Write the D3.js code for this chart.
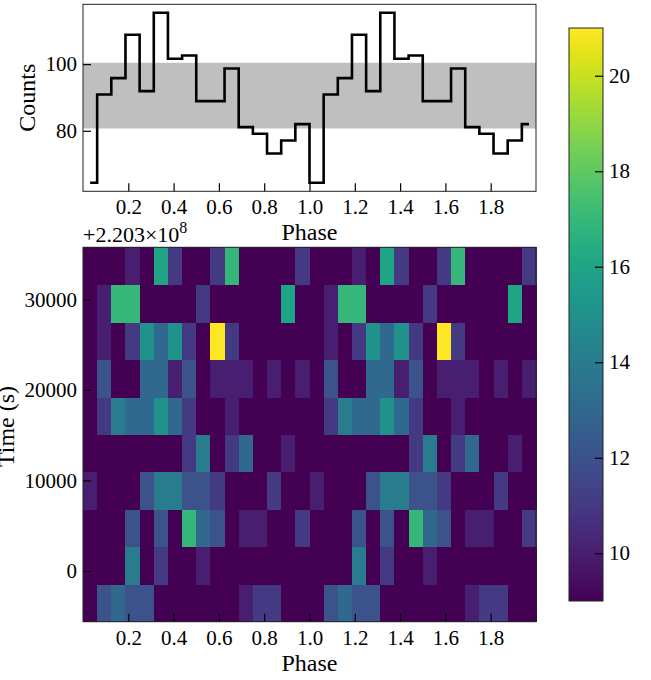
<!DOCTYPE html>
<html>
<head>
<meta charset="utf-8">
<script src="https://cdn.jsdelivr.net/npm/d3@7"></script>
<style>
  body { margin: 0; background: #fff; }
  svg text { font-family: 'Liberation Serif', 'DejaVu Serif', serif; fill: #000; }
</style>
</head>
<body>
<svg width="651" height="680"></svg>
<script>
// folded profile, one cycle (plotted twice)
const cyclePhase = [0.03125, 0.09375, 0.15625, 0.21875, 0.28125, 0.34375, 0.40625, 0.46875,
  0.53125, 0.59375, 0.65625, 0.71875, 0.78125, 0.84375, 0.90625, 0.96875]
const cycleCounts = [64.4, 90.9, 95.8, 108.8, 91.9, 115.4, 101.6, 102.6,
  88.9, 88.9, 98.7, 81.1, 79.1, 73.2, 77.1, 82.0]
const countBand = [80.7, 100.4]
const countTicks = [80, 100]

// phase-time map, one cycle, rows from earliest to latest
const phaseEdges = [0, 0.0625, 0.125, 0.1875, 0.25, 0.3125, 0.375, 0.4375, 0.5,
  0.5625, 0.625, 0.6875, 0.75, 0.8125, 0.875, 0.9375, 1]
const timeEdges = [-5600, -1466, 2668, 6802, 10936, 15070, 19204, 23338, 27472, 31606, 35740]
const rates = [
  [9, 12, 13, 12, 12, 9, 9, 9, 9, 9, 9, 10, 11, 11, 9, 9],
  [9, 9, 9, 14, 9, 11, 9, 9, 10, 9, 9, 9, 9, 9, 9, 9],
  [9, 9, 9, 12, 9, 12, 9, 17, 13, 12, 9, 10, 10, 9, 9, 11],
  [10, 9, 9, 9, 12, 14, 14, 12, 12, 11, 9, 9, 9, 11, 9, 9],
  [9, 9, 9, 9, 9, 9, 9, 11, 14, 9, 11, 13, 9, 9, 10, 9],
  [9, 11, 14, 13, 13, 15, 13, 11, 9, 9, 10, 9, 9, 9, 9, 9],
  [9, 12, 9, 9, 13, 13, 10, 12, 9, 10, 10, 10, 9, 10, 9, 10],
  [9, 10, 9, 11, 15, 13, 15, 11, 9, 21, 11, 9, 9, 9, 9, 9],
  [9, 10, 17, 17, 9, 9, 9, 9, 11, 9, 9, 9, 9, 9, 16, 9],
  [9, 9, 9, 10, 9, 16, 11, 9, 9, 11, 17, 9, 9, 9, 9, 11]
]
const cycles = [0, 1]
const phaseTicks = [0.2, 0.4, 0.6, 0.8, 1.0, 1.2, 1.4, 1.6, 1.8]
const timeTicks = [0, 10000, 20000, 30000]
const colorDomain = [9, 21]
const colorTicks = [10, 12, 14, 16, 18, 20]

const svg = d3.select('svg')
const left = 83
const right = 536
const tickFont = 21
const labelFont = 24

const x = d3.scaleLinear().domain([0, 2]).range([left, right])

// ---- top panel: pulse profile
const topY0 = 4.3
const topY1 = 191.3
const cMin = d3.min(cycleCounts)
const cMax = d3.max(cycleCounts)
const pad = (cMax - cMin) * 0.05
const yc = d3.scaleLinear().domain([cMin - pad, cMax + pad]).range([topY1, topY0])

const prof = svg.append('g')
prof.append('rect')
  .attr('x', left).attr('width', right - left)
  .attr('y', yc(countBand[1])).attr('height', yc(countBand[0]) - yc(countBand[1]))
  .attr('fill', '#bfbfbf')

const profile = []
cycles.forEach(k => cyclePhase.forEach((p, i) => profile.push([p + k, cycleCounts[i]])))
prof.append('path')
  .datum(profile)
  .attr('fill', 'none')
  .attr('stroke', '#000')
  .attr('stroke-width', 2.6)
  .attr('d', d3.line().x(d => x(d[0])).y(d => yc(d[1])).curve(d3.curveStep))

function styleAxis (g) {
  g.select('.domain').remove()
  g.selectAll('.tick line').attr('stroke', '#000').attr('stroke-width', 1.2)
  g.selectAll('text').attr('font-size', tickFont).attr('font-family', null)
}

prof.append('g')
  .attr('transform', `translate(0,${topY1})`)
  .call(d3.axisBottom(x).tickValues(phaseTicks).tickFormat(d3.format('.1f')).tickSize(-8).tickPadding(8))
  .call(styleAxis)
prof.append('g')
  .attr('transform', `translate(${left},0)`)
  .call(d3.axisLeft(yc).tickValues(countTicks).tickSize(-8).tickPadding(6))
  .call(styleAxis)
prof.append('rect')
  .attr('x', left).attr('y', topY0).attr('width', right - left).attr('height', topY1 - topY0)
  .attr('fill', 'none').attr('stroke', '#222').attr('stroke-width', 1)

prof.append('text')
  .attr('transform', `translate(35,${(topY0 + topY1) / 2}) rotate(-90)`)
  .attr('text-anchor', 'middle')
  .attr('font-size', labelFont)
  .text('Counts')
prof.append('text')
  .attr('x', x(1)).attr('y', 240)
  .attr('text-anchor', 'middle')
  .attr('font-size', labelFont)
  .text('Phase')

// ---- bottom panel: phase-time map
const heatY0 = 247.3
const heatY1 = 621.7
const yt = d3.scaleLinear().domain([timeEdges[0], timeEdges[timeEdges.length - 1]]).range([heatY1, heatY0])
const color = d3.scaleSequential(d3.interpolateViridis).domain(colorDomain)

const cells = []
cycles.forEach(k => rates.forEach((row, i) => row.forEach((v, j) => {
  cells.push({ p0: phaseEdges[j] + k, p1: phaseEdges[j + 1] + k, t0: timeEdges[i], t1: timeEdges[i + 1], v: v })
})))

const heat = svg.append('g')
heat.append('g')
  .attr('shape-rendering', 'crispEdges')
  .selectAll('rect')
  .data(cells)
  .join('rect')
  .attr('x', d => x(d.p0))
  .attr('width', d => x(d.p1) - x(d.p0) + 0.5)
  .attr('y', d => yt(d.t1))
  .attr('height', d => yt(d.t0) - yt(d.t1) + 0.5)
  .attr('fill', d => color(d.v))

heat.append('g')
  .attr('transform', `translate(0,${heatY1})`)
  .call(d3.axisBottom(x).tickValues(phaseTicks).tickFormat(d3.format('.1f')).tickSize(-8).tickPadding(8))
  .call(styleAxis)
heat.append('g')
  .attr('transform', `translate(${left},0)`)
  .call(d3.axisLeft(yt).tickValues(timeTicks).tickFormat(d3.format('d')).tickSize(-8).tickPadding(6))
  .call(styleAxis)
heat.append('rect')
  .attr('x', left).attr('y', heatY0).attr('width', right - left).attr('height', heatY1 - heatY0)
  .attr('fill', 'none').attr('stroke', '#222').attr('stroke-width', 1)

const offset = heat.append('text')
  .attr('x', left).attr('y', 242)
  .attr('font-size', 22)
offset.append('tspan').text('+2.203×10')
offset.append('tspan').attr('dy', -9).attr('font-size', 16).text('8')

heat.append('text')
  .attr('transform', `translate(14,${(heatY0 + heatY1) / 2 - 8}) rotate(-90)`)
  .attr('text-anchor', 'middle')
  .attr('font-size', labelFont)
  .text('Time (s)')
heat.append('text')
  .attr('x', x(1)).attr('y', 671)
  .attr('text-anchor', 'middle')
  .attr('font-size', labelFont)
  .text('Phase')

// ---- colorbar
const cbX0 = 569
const cbX1 = 603
const cbY0 = 28
const cbY1 = 601
const yb = d3.scaleLinear().domain(colorDomain).range([cbY1, cbY0])

const grad = svg.append('defs').append('linearGradient')
  .attr('id', 'viridis')
  .attr('x1', 0).attr('y1', 1).attr('x2', 0).attr('y2', 0)
grad.selectAll('stop')
  .data(d3.range(0, 1.0001, 0.05))
  .join('stop')
  .attr('offset', d => d)
  .attr('stop-color', d => d3.interpolateViridis(d))

const cb = svg.append('g')
cb.append('rect')
  .attr('x', cbX0).attr('y', cbY0).attr('width', cbX1 - cbX0).attr('height', cbY1 - cbY0)
  .attr('fill', 'url(#viridis)')
cb.append('g')
  .attr('transform', `translate(${cbX1},0)`)
  .call(d3.axisRight(yb).tickValues(colorTicks).tickSize(-8).tickPadding(6))
  .call(styleAxis)
cb.append('rect')
  .attr('x', cbX0).attr('y', cbY0).attr('width', cbX1 - cbX0).attr('height', cbY1 - cbY0)
  .attr('fill', 'none').attr('stroke', '#222').attr('stroke-width', 1)
</script>
</body>
</html>
